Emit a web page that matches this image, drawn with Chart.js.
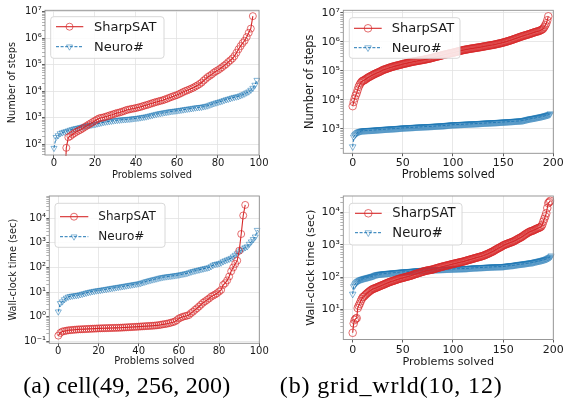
<!DOCTYPE html>
<html><head><meta charset="utf-8">
<script src="https://cdn.jsdelivr.net/npm/chart.js@4.4.1/dist/chart.umd.min.js"></script>
<style>
html,body{margin:0;padding:0;background:#fff;}
#wrap{position:relative;width:565px;height:406px;overflow:hidden;background:#fff;}
#wrap canvas{position:absolute;left:0;top:0;}
.cap{position:absolute;top:372px;left:0;font-family:"Liberation Serif",serif;font-size:24px;line-height:27px;white-space:nowrap;color:#000;}
</style></head>
<body><div id="wrap">
<canvas id="cA1" width="565" height="406"></canvas>
<canvas id="cB1" width="565" height="406"></canvas>
<canvas id="cA2" width="565" height="406"></canvas>
<canvas id="cB2" width="565" height="406"></canvas>
<div class="cap" id="capA">(a) cell(49, 256, 200)</div>
<div class="cap" id="capB">(b) grid_wrld(10, 12)</div>
</div>
<script>
// ---------------- data ----------------
const seriesNames = ['SharpSAT', 'Neuro#'];

const xTicksCell = [0, 20, 40, 60, 80, 100];
const xTicksGrid = [0, 50, 100, 150, 200];

const yTicksStepsCell = [1e2, 1e3, 1e4, 1e5, 1e6, 1e7];
const yLabelsStepsCell = ['10²', '10³', '10⁴', '10⁵', '10⁶', '10⁷'];
const yTicksStepsGrid = [1e3, 1e4, 1e5, 1e6, 1e7];
const yLabelsStepsGrid = ['10³', '10⁴', '10⁵', '10⁶', '10⁷'];
const yTicksTimeCell = [0.1, 1, 10, 100, 1000, 10000];
const yLabelsTimeCell = ['10⁻¹', '10⁰', '10¹', '10²', '10³', '10⁴'];
const yTicksTimeGrid = [10, 100, 1000, 10000];
const yLabelsTimeGrid = ['10¹', '10²', '10³', '10⁴'];

// (a) cell(49,256,200) - number of steps
const stepsCellSharpSAT = [
1,1,1,1,1,1,72,180,200,230,
260,290,320,350,390,440,490,550,610,680,
760,850,930,980,1000,1070,1120,1200,1260,1340,
1420,1500,1560,1650,1750,1880,1980,2050,2150,2200,
2300,2400,2500,2650,2800,2950,3100,3300,3500,3700,
3900,4100,4300,4500,4800,5100,5500,5900,6300,6700,
7100,7700,8400,9200,10000,10700,11500,12500,13500,15000,
16500,18500,21000,25000,29000,34000,38000,43000,50000,56000,
62000,70000,80000,92000,105000,125000,145000,170000,210000,280000,
380000,500000,650000,800000,1100000,1600000,2300000,6800000];
const stepsCellNeuro = [
70,180,210,250,270,285,300,320,340,360,
380,395,410,430,450,470,490,505,520,540,
550,580,600,630,660,680,700,720,740,760,
780,800,810,830,840,850,870,880,900,920,
940,960,990,1020,1050,1080,1130,1180,1230,1290,
1350,1400,1450,1500,1550,1600,1650,1700,1740,1780,
1820,1870,1920,1980,2040,2100,2150,2200,2280,2350,
2400,2450,2500,2600,2700,2800,3000,3200,3400,3600,
3800,4000,4200,4500,4800,5000,5300,5600,5900,6100,
6300,6800,7300,7900,8700,9500,11000,13000,17000,26000];

// (b) grid_wrld(10,12) - number of steps
const stepsGridSharpSAT = [
6000,8300,11000,14000,17000,22000,28000,33000,38000,42000,
45000,46000,48000,51000,54000,57000,60000,62000,65000,68000,
71000,74000,77000,80000,83000,86000,89000,92000,96000,100000,
105000,108000,111000,114000,117000,121000,124000,128000,131000,134000,
138000,141000,144000,147000,150000,153000,156000,159000,162000,166000,
170000,173000,176000,179000,182000,186000,190000,193000,197000,200000,
204000,207000,210000,213000,216000,220000,223000,226000,229000,232000,
235000,239000,243000,247000,251000,255000,260000,264000,269000,275000,
282000,288000,294000,300000,306000,312000,318000,324000,331000,338000,
347000,353000,360000,367000,374000,381000,389000,397000,405000,410000,
417000,425000,434000,443000,452000,462000,472000,482000,492000,502000,
513000,520000,528000,536000,544000,552000,560000,568000,576000,584000,
590000,598000,606000,614000,622000,630000,638000,646000,655000,665000,
676000,686000,696000,706000,716000,726000,737000,748000,759000,765000,
776000,790000,805000,820000,835000,850000,865000,880000,895000,915000,
933000,955000,980000,1000000,1020000,1050000,1080000,1100000,1130000,1160000,
1200000,1230000,1270000,1300000,1340000,1380000,1420000,1460000,1500000,1540000,
1580000,1620000,1660000,1700000,1740000,1780000,1830000,1880000,1930000,1980000,
2040000,2100000,2150000,2200000,2250000,2300000,2350000,2450000,2550000,2650000,
2850000,3200000,3700000,4300000,5500000,7500000];
const stepsGridNeuro = [
240,520,600,650,700,750,780,800,820,840,
850,855,860,865,870,875,878,881,884,887,
890,896,902,908,914,920,926,932,938,944,
950,955,960,965,970,975,980,985,990,995,
1000,1006,1012,1018,1024,1030,1036,1043,1050,1057,
1065,1070,1075,1080,1085,1090,1095,1100,1105,1110,
1115,1120,1125,1130,1135,1140,1145,1150,1155,1160,
1165,1170,1175,1180,1185,1190,1195,1200,1205,1210,
1215,1220,1226,1232,1238,1244,1250,1256,1262,1268,
1274,1285,1295,1305,1315,1325,1335,1345,1355,1365,
1375,1380,1385,1390,1395,1400,1405,1410,1415,1420,
1425,1430,1436,1442,1448,1454,1460,1466,1472,1478,
1484,1490,1497,1504,1511,1518,1525,1532,1539,1546,
1553,1560,1567,1574,1581,1588,1595,1602,1609,1616,
1623,1630,1638,1646,1654,1662,1670,1678,1686,1694,
1702,1710,1720,1730,1740,1750,1760,1770,1780,1790,
1800,1810,1820,1830,1840,1850,1860,1870,1885,1900,
1920,1960,2000,2040,2080,2120,2160,2200,2230,2260,
2290,2320,2360,2400,2440,2480,2520,2560,2600,2650,
2700,2760,2820,2880,2950,3020,3100,3300];

// (a) cell(49,256,200) - wall-clock time (sec)
const timeCellSharpSAT = [
0.17,0.22,0.25,0.26,0.27,0.28,0.285,0.29,0.295,0.3,
0.305,0.307,0.31,0.313,0.316,0.319,0.322,0.325,0.328,0.331,
0.335,0.337,0.339,0.341,0.343,0.345,0.347,0.349,0.351,0.353,
0.355,0.358,0.362,0.366,0.37,0.374,0.378,0.382,0.386,0.39,
0.395,0.4,0.405,0.41,0.415,0.42,0.425,0.43,0.437,0.445,
0.455,0.47,0.49,0.5,0.52,0.54,0.57,0.6,0.64,0.72,
0.85,0.92,1.0,1.05,1.1,1.17,1.4,1.6,1.9,2.2,
2.6,3.1,3.7,4.2,4.8,5.5,6.5,7.2,8.0,9.0,
10.5,12.3,19.5,23,30,43,70,100,140,190,
480,2300,13000,35000];
const timeCellNeuro = [
1.6,3.5,4.1,5.0,5.8,6.4,6.8,7.0,7.2,7.4,
7.6,8.0,8.4,8.8,9.3,9.8,10.2,10.6,11.0,11.4,
11.7,12.0,12.4,12.8,13.2,13.7,14.1,14.6,15.0,15.5,
16.0,16.5,17.0,17.6,18.2,18.8,19.4,20.0,20.7,21.4,
22,23,24.5,26,27.5,29,30.5,32,33.5,35,
37,38.5,40,41.5,42.5,43.5,44.5,46,47,48.5,
50,52,54,56,58,62,66,70,73,77,
80,84,88,92,96,100,110,125,135,140,
145,155,174,190,205,220,240,275,320,370,
436,500,580,650,710,900,1120,1400,1780,3300];

// (b) grid_wrld(10,12) - wall-clock time (sec)
const timeGridSharpSAT = [
1.9,3.7,4.7,5.2,5.4,11,13,15,18,21,
24,25,27,29,31,33,35,37,39,41,
43,44,45,46.5,48,49.5,51,52.5,54,56,
57.5,59,61,63,65,67,69,71,73,74.5,
76,78,80,82,84,86,88,90,92,93.5,
95,97,99,101,103,105,107,109,111,114,
117,120,123,126,129,132,135,138,141,145,
148,151,154,157,160,162,164,166,168,171,
174,178,182,186,190,194,198,202,206,210,
214,218,222,226,230,234,238,243,248,252,
257,261,265,270,274,279,284,288,293,297,
302,308,315,322,329,336,343,350,357,364,
372,380,388,396,404,412,420,428,437,447,
457,470,485,500,515,530,550,570,590,610,
630,660,690,720,750,780,810,840,870,910,
955,985,1015,1045,1075,1105,1135,1165,1195,1230,
1260,1310,1360,1420,1480,1540,1600,1660,1720,1800,
1900,2000,2100,2200,2300,2400,2500,2600,2650,2700,
2800,2900,3000,3100,3200,3300,3400,3500,3700,4200,
5200,6300,7600,9500,13800,19500,21000,23000];
const timeGridNeuro = [
30,51,58,65,70,74,78,81,84,86,
88,90,92,94,95,97,99,101,103,105,
107,110,113,117,119,121,123,124,125,126,
127,128,129,130,131,132,133,133.5,134,135,
136,137,138,139,140,141,142,143,144,145,
145.5,146,147,148,148.5,149,150,151,152,153,
154,155,156,157,158,159,160,161,162,163,
164,165,165.5,166,166.5,167,167.5,168,168.5,169,
169.5,170,170.5,171,171.5,172,172.5,173,173.5,174,
174.5,175,175.5,176,176.5,177,177.5,178,178.5,179,
179.5,180,180.5,181,181.5,182,182.5,183,183.5,184,
184.5,185,185.5,186,187,188,189,190,191,192,
193,194,195,195.5,196,197,198,198.5,199,200,
201,201.5,202,203,204,204.5,205,206,207,207.5,
208,209,209.5,210,210.5,211,211.5,212,212.5,213,
214,216,218,220,222,224,226,228,230,231,
232,235,238,241,244,247,249,251,253,255,
258,260,263,266,269,272,275,278,280,282,
285,293,298,302,307,312,317,322,327,333,
340,347,355,363,375,390,405,425,457];

// ---------------- drawing ----------------
Chart.defaults.font.family = '"DejaVu Sans", sans-serif';
const RED = '#d62728', RED_M = 'rgba(214,39,40,0.75)';
const BLUE = '#1f77b4', BLUE_M = 'rgba(31,119,180,0.6)';
const GRID = '#e2e2e2', FRAME = '#8e8e8e', TICKC = '#333333', TXT = '#1a1a1a';

function drawMarker(c, kind, x, y, r, color, lw) {
  c.beginPath();
  if (kind === 'circle') {
    c.arc(x, y, r, 0, Math.PI * 2);
  } else {
    for (let k = 0; k < 3; k++) {
      const a = Math.PI + k * 2 * Math.PI / 3;
      const px = x + Math.sin(a) * r, py = y - Math.cos(a) * r;
      if (k) c.lineTo(px, py); else c.moveTo(px, py);
    }
    c.closePath();
  }
  c.strokeStyle = color; c.lineWidth = lw; c.stroke();
}

function overlayPlugin(p) {
  return {
    id: 'overlay',
    afterDraw(chart) {
      const c = chart.ctx, ca = chart.chartArea, g = p.leg;
      c.save();
      c.strokeStyle = FRAME; c.lineWidth = 0.9;
      c.strokeRect(ca.left, ca.top, ca.right - ca.left, ca.bottom - ca.top);
      // legend box
      const rr = 3;
      c.beginPath();
      c.moveTo(g.x0 + rr, g.y0);
      c.arcTo(g.x1, g.y0, g.x1, g.y1, rr);
      c.arcTo(g.x1, g.y1, g.x0, g.y1, rr);
      c.arcTo(g.x0, g.y1, g.x0, g.y0, rr);
      c.arcTo(g.x0, g.y0, g.x1, g.y0, rr);
      c.closePath();
      c.fillStyle = 'rgba(255,255,255,0.85)'; c.fill();
      c.strokeStyle = '#d4d4d4'; c.lineWidth = 0.9; c.stroke();
      const rows = [
        {name: seriesNames[0], col: RED, mcol: RED_M, dash: [], kind: 'circle', y: g.r1, lw: 1.1},
        {name: seriesNames[1], col: BLUE, mcol: BLUE_M, dash: [3, 1.6], kind: 'tri', y: g.r2, lw: 1}
      ];
      rows.forEach(r => {
        c.beginPath(); c.setLineDash(r.dash);
        c.moveTo(g.lx0, r.y); c.lineTo(g.lx1, r.y);
        c.strokeStyle = r.col; c.lineWidth = r.lw; c.stroke();
        c.setLineDash([]);
        drawMarker(c, r.kind, g.mx, r.y, p.mr, r.mcol, 0.9);
        c.fillStyle = TXT; c.font = g.fs + 'px "DejaVu Sans"';
        c.textBaseline = 'middle'; c.textAlign = 'left';
        c.fillText(r.name, g.tx, r.y + 0.5);
      });
      c.restore();
    }
  };
}

function makePanel(p) {
  const lhT = p.titleFs * 1.2;
  const padLeft = p.yTitleX - lhT / 2;
  const yW = p.L - padLeft;
  const xH = p.xTitleY - p.B + lhT / 2;
  const minor = [];
  for (let e = Math.floor(Math.log10(p.yMin)); e <= Math.ceil(Math.log10(p.yMax)); e++) {
    for (let m = 2; m <= 9; m++) {
      const v = m * Math.pow(10, e);
      if (v > p.yMin && v < p.yMax) minor.push(v);
    }
  }
  const yVals = p.yTicks.concat(minor).sort((a, b) => a - b);
  const majorIdx = v => p.yTicks.findIndex(t => Math.abs(v / t - 1) < 1e-6);
  const isMajor = v => majorIdx(v) >= 0;

  new Chart(document.getElementById(p.id), {
    type: 'line',
    data: {
      datasets: [
        {label: seriesNames[0], data: p.red.map((v, i) => ({x: i, y: v})),
         borderColor: RED, borderWidth: 1.1, pointStyle: 'circle', pointRadius: p.mr,
         pointBorderColor: RED_M, pointBackgroundColor: 'rgba(0,0,0,0)', pointBorderWidth: 0.9,
         tension: 0, clip: 1},
        {label: seriesNames[1], data: p.blue.map((v, i) => ({x: i, y: v})),
         borderColor: BLUE, borderWidth: 1, borderDash: [3, 1.6], pointStyle: 'triangle', pointRotation: 180,
         pointRadius: p.mr, pointBorderColor: BLUE_M, pointBackgroundColor: 'rgba(0,0,0,0)', pointBorderWidth: 0.9,
         tension: 0, clip: 1}
      ]
    },
    options: {
      responsive: false, animation: false, devicePixelRatio: 1, events: [],
      layout: {padding: {left: padLeft, right: 565 - p.R, top: p.T, bottom: 406 - p.B - xH}},
      plugins: {legend: {display: false}, tooltip: {enabled: false}, title: {display: false}},
      scales: {
        x: {
          type: 'linear', min: p.xMin, max: p.xMax,
          afterBuildTicks: s => { s.ticks = p.xTicks.map(v => ({value: v})); },
          afterFit: s => { s.height = xH; s.paddingLeft = 0; s.paddingRight = 0; },
          border: {display: false},
          grid: {color: GRID, lineWidth: 0.8, tickLength: 3, tickColor: TICKC, tickWidth: 0.8},
          ticks: {autoSkip: false, maxRotation: 0, padding: p.xTickPad, color: TXT,
                  font: {size: p.tickFs}, callback: v => String(v)},
          title: {display: true, text: 'Problems solved', color: TXT, padding: 0, font: {size: p.titleFs}}
        },
        y: {
          type: 'logarithmic', min: p.yMin, max: p.yMax,
          afterBuildTicks: s => { s.ticks = yVals.map(v => ({value: v, major: isMajor(v)})); },
          afterFit: s => { s.width = yW; s.paddingTop = 0; s.paddingBottom = 0; },
          border: {display: false},
          grid: {
            color: ctx => (ctx.tick && isMajor(ctx.tick.value)) ? GRID : 'rgba(0,0,0,0)',
            lineWidth: 0.8, tickLength: 3,
            tickColor: ctx => (ctx.tick && isMajor(ctx.tick.value)) ? TICKC : '#666666',
            tickWidth: ctx => (ctx.tick && isMajor(ctx.tick.value)) ? 0.8 : 0.5
          },
          ticks: {autoSkip: false, padding: p.yTickPad, color: TXT, font: {size: p.tickFs},
                  callback: v => { const k = majorIdx(v); return k >= 0 ? p.yLabels[k] : ''; }},
          title: {display: true, text: p.yTitle, color: TXT, padding: 0, font: {size: p.titleFs}}
        }
      }
    },
    plugins: [overlayPlugin(p)]
  });
}

makePanel({id: 'cA1', red: stepsCellSharpSAT, blue: stepsCellNeuro,
  L: 45, R: 259, T: 10.3, B: 155, xMin: -4.39, xMax: 100, xTicks: xTicksCell,
  yMin: 38.5, yMax: 1.13e7, yTicks: yTicksStepsCell, yLabels: yLabelsStepsCell,
  yTitle: 'Number of steps', yTitleX: 12.8, xTitleY: 175, tickFs: 10, titleFs: 9.8,
  xTickPad: -0.7, yTickPad: 0.3, mr: 3.5,
  leg: {x0: 50.7, y0: 16.7, x1: 164, y1: 58.3, lx0: 56, lx1: 83.3, mx: 69.5, tx: 94, r1: 26.7, r2: 46.7, fs: 13}});

makePanel({id: 'cB1', red: stepsGridSharpSAT, blue: stepsGridNeuro,
  L: 343.3, R: 553.3, T: 10.3, B: 153.3, xMin: -9.37, xMax: 200, xTicks: xTicksGrid,
  yMin: 142, yMax: 1.21e7, yTicks: yTicksStepsGrid, yLabels: yLabelsStepsGrid,
  yTitle: 'Number of steps', yTitleX: 309.7, xTitleY: 175, tickFs: 11, titleFs: 11.4,
  xTickPad: 0.4, yTickPad: 0.3, mr: 3.8,
  leg: {x0: 349.3, y0: 17.7, x1: 460, y1: 58.3, lx0: 354, lx1: 381.7, mx: 368, tx: 391.7, r1: 28.3, r2: 47.7, fs: 13}});

makePanel({id: 'cA2', red: timeCellSharpSAT, blue: timeCellNeuro,
  L: 49.3, R: 259.3, T: 196, B: 343.3, xMin: -4.48, xMax: 100, xTicks: xTicksCell,
  yMin: 0.083, yMax: 80600, yTicks: yTicksTimeCell, yLabels: yLabelsTimeCell,
  yTitle: 'Wall-clock time (sec)', yTitleX: 13, xTitleY: 361.7, tickFs: 10, titleFs: 9.8,
  xTickPad: -1.3, yTickPad: 0.3, mr: 3.5,
  leg: {x0: 55, y0: 203.3, x1: 165, y1: 247.3, lx0: 60, lx1: 88.3, mx: 74, tx: 98.3, r1: 216.7, r2: 236.7, fs: 12}});

makePanel({id: 'cB2', red: timeGridSharpSAT, blue: timeGridNeuro,
  L: 343.3, R: 553.3, T: 196, B: 339.5, xMin: -9.37, xMax: 200, xTicks: xTicksGrid,
  yMin: 1.18, yMax: 32400, yTicks: yTicksTimeGrid, yLabels: yLabelsTimeGrid,
  yTitle: 'Wall-clock time (sec)', yTitleX: 311, xTitleY: 361.7, tickFs: 11, titleFs: 11.2,
  xTickPad: 1.4, yTickPad: 0.3, mr: 3.8,
  leg: {x0: 349.3, y0: 203.3, x1: 462, y1: 245, lx0: 355, lx1: 381.7, mx: 368.3, tx: 392.3, r1: 213.3, r2: 232.7, fs: 13.2}});

function fitCaption(id, cx, target) {
  const el = document.getElementById(id);
  el.style.letterSpacing = '0px';
  const w0 = el.getBoundingClientRect().width;
  const n = el.textContent.length;
  const ls = (target - w0) / (n - 1);
  el.style.letterSpacing = ls + 'px';
  const w1 = el.getBoundingClientRect().width - ls;
  el.style.left = (cx - w1 / 2) + 'px';
}
fitCaption('capA', 126.7, 207);
fitCaption('capB', 390.8, 222);
</script>
</body></html>
